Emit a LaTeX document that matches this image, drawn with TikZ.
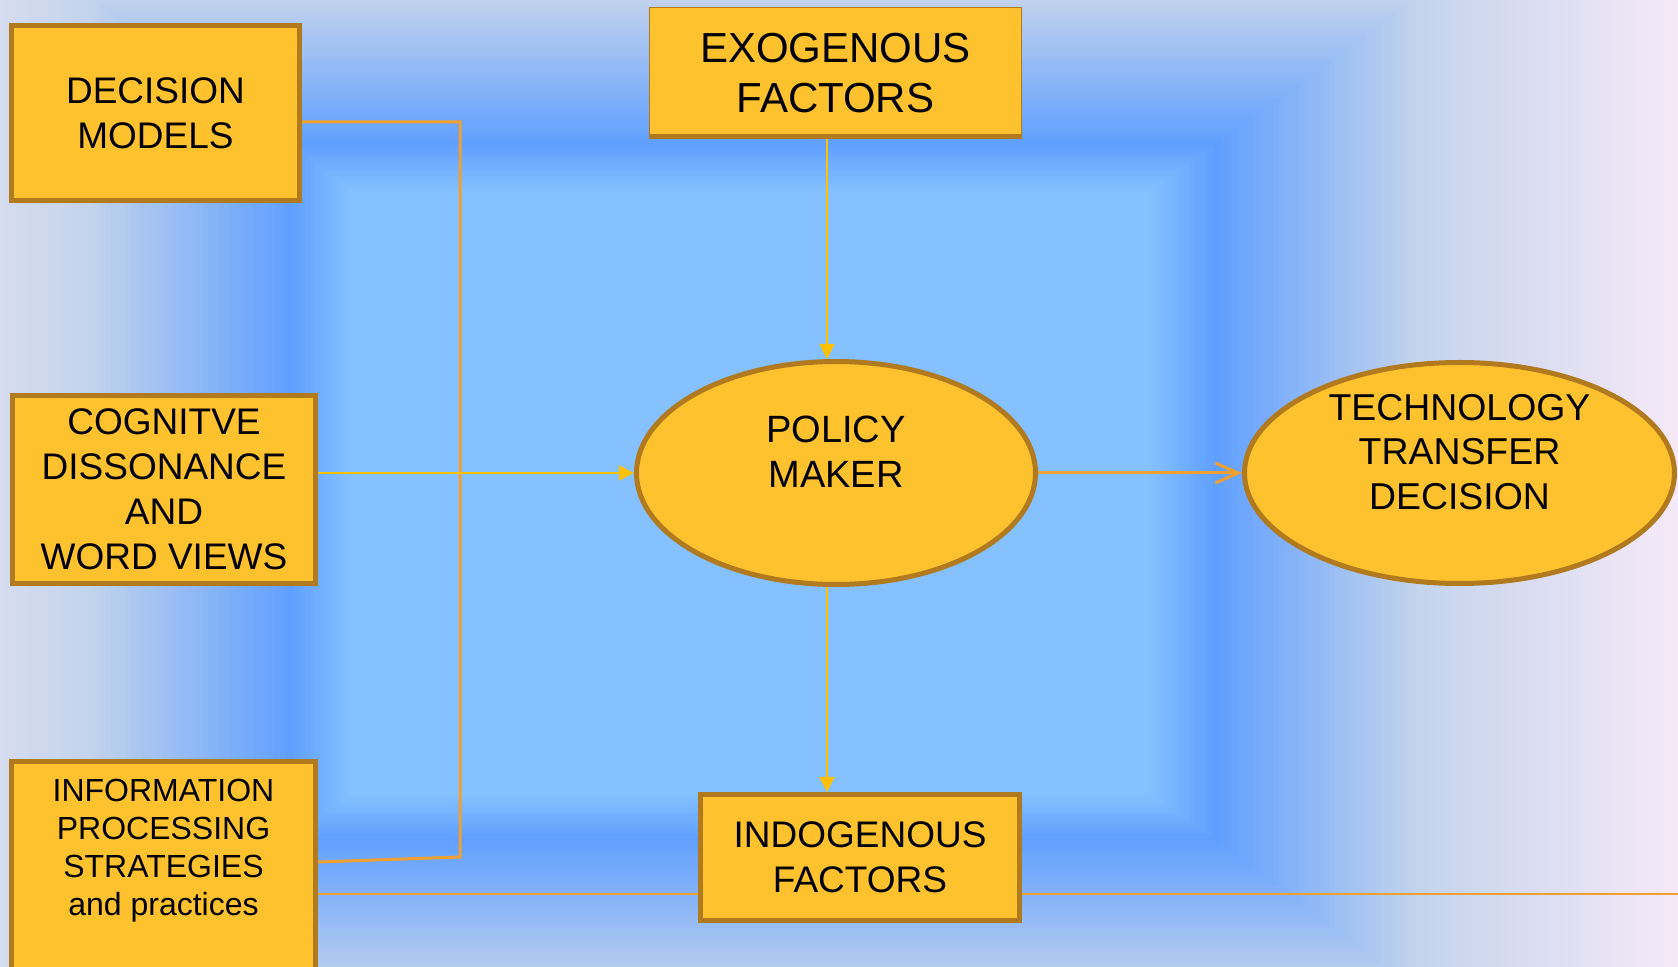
\documentclass[tikz,border=0pt]{standalone}
\usepackage{fontspec}
\setmainfont{Liberation Sans}
\usetikzlibrary{arrows.meta,shapes.geometric}
\definecolor{boxfill}{HTML}{FFC22F}
\definecolor{boxline}{HTML}{B17A1E}
\definecolor{linkorange}{HTML}{F0A030}
\definecolor{linkyellow}{HTML}{FFC000}
\definecolor{bgleft}{HTML}{D6DCEF}
\definecolor{bgright}{HTML}{F6E9F8}
\definecolor{glowedge}{HTML}{C4D4EC}
\definecolor{ringblue}{HTML}{5F9FFF}
\definecolor{coreblue}{HTML}{85C1FF}
\tikzset{
  pbox/.style={rectangle, draw=boxline, fill=boxfill, line width=2.5pt, align=center, inner sep=0pt,
    font=\fontsize{18.5}{22.5}\selectfont},
  pell/.style={ellipse, draw=boxline, fill=boxfill, line width=2.5pt, inner sep=0pt},
  etext/.style={align=center, inner sep=0pt},
  thinarrow/.style={draw=linkyellow, line width=1pt, -{Triangle[length=7.5pt,width=7.5pt]}},
  link/.style={draw=linkorange, line width=1.5pt},
  linkthin/.style={draw=linkorange, line width=1.25pt},
}
\begin{document}
\begin{tikzpicture}[x=0.5pt,y=-0.5pt]
\useasboundingbox (0,0) rectangle (1678,967);
\clip (0,0) rectangle (1678,967);
% ---- background ----
\fill[glowedge] (0,0) rectangle (1678,967);
\shade[left color=bgleft,right color=glowedge] (0,0) rectangle (86,967);
\shade[left color=glowedge,right color=bgright] (1421,0) rectangle (1678,967);
\foreach \i in {0,...,40}{
  \pgfmathsetmacro{\ta}{\i/40}
  \pgfmathsetmacro{\pc}{100*\i/40}
  \fill[ringblue!\pc!glowedge] ({85+205*\ta},{-7+150*\ta}) rectangle ({1422-205*\ta},{995-155*\ta});
}
\foreach \i in {1,...,19}{
  \pgfmathsetmacro{\tin}{\i/20}
  \pgfmathsetmacro{\pc}{100*\i/20}
  \fill[coreblue!\pc!ringblue] ({290+60*\tin},{143+47*\tin}) rectangle ({1217-67*\tin},{840-45*\tin});
}
\fill[coreblue] (350,190) rectangle (1150,795);
% ---- nodes ----
\node[pbox, minimum width=144pt, minimum height=87.5pt] (dm) at (155.5,113) {DECISION\\MODELS};
\node[pbox, minimum width=151.5pt, minimum height=94pt] (cog) at (164,489.5) {COGNITVE\\DISSONANCE\\AND\\WORD VIEWS};
\node[pbox, minimum width=152pt, minimum height=119.25pt] (info) at (163.5,880.75) {};
\node[etext, font=\fontsize{16}{19}\selectfont] (infotext) at (163.5,851) {INFORMATION\\PROCESSING\\STRATEGIES\\and practices};
\node[pbox, line width=0.5pt, minimum width=186pt, minimum height=65.5pt,
      font=\fontsize{21}{25}\selectfont] (exo) at (835.5,73) {EXOGENOUS\\FACTORS};
\fill[boxline] (649,134) rectangle (1022,139);
\node[pbox, minimum width=159.5pt, minimum height=63pt] (indo) at (860,857.5) {INDOGENOUS\\FACTORS};
\node[pell, minimum width=199.5pt, minimum height=111.5pt] (pm) at (836,473) {};
\node[etext, font=\fontsize{19}{22.5}\selectfont] (pmtext) at (836,451.5) {POLICY\\MAKER};
\node[pell, minimum width=215pt, minimum height=110.5pt] (tt) at (1459.5,473) {};
\node[etext, font=\fontsize{18.7}{22.15}\selectfont] (tttext) at (1459.5,452) {TECHNOLOGY\\TRANSFER\\DECISION};
% ---- connectors ----
\coordinate (dmturn) at (460,122);
\coordinate (dmdown) at (460,857);
\coordinate (infoin) at (0,862);
\coordinate (bl) at (1678,894);
\coordinate (ax) at (827,0);
\draw[link] (dm.east |- dmturn) -- (dmturn) -- (dmdown) -- (info.east |- infoin);
\draw[linkthin] (info.east |- bl) -- (indo.west |- bl);
\draw[linkthin] (indo.east |- bl) -- (bl);
\draw[thinarrow] (exo.south -| ax) -- (pm.north -| ax);
\draw[thinarrow] (pm.south -| ax) -- (indo.north -| ax);
\draw[thinarrow] (cog.east |- pm.west) -- (pm.west);
\draw[link, -{Straight Barb[length=11.5pt,width=10pt]}] (pm.east) -- (tt.west);
\end{tikzpicture}
\end{document}
